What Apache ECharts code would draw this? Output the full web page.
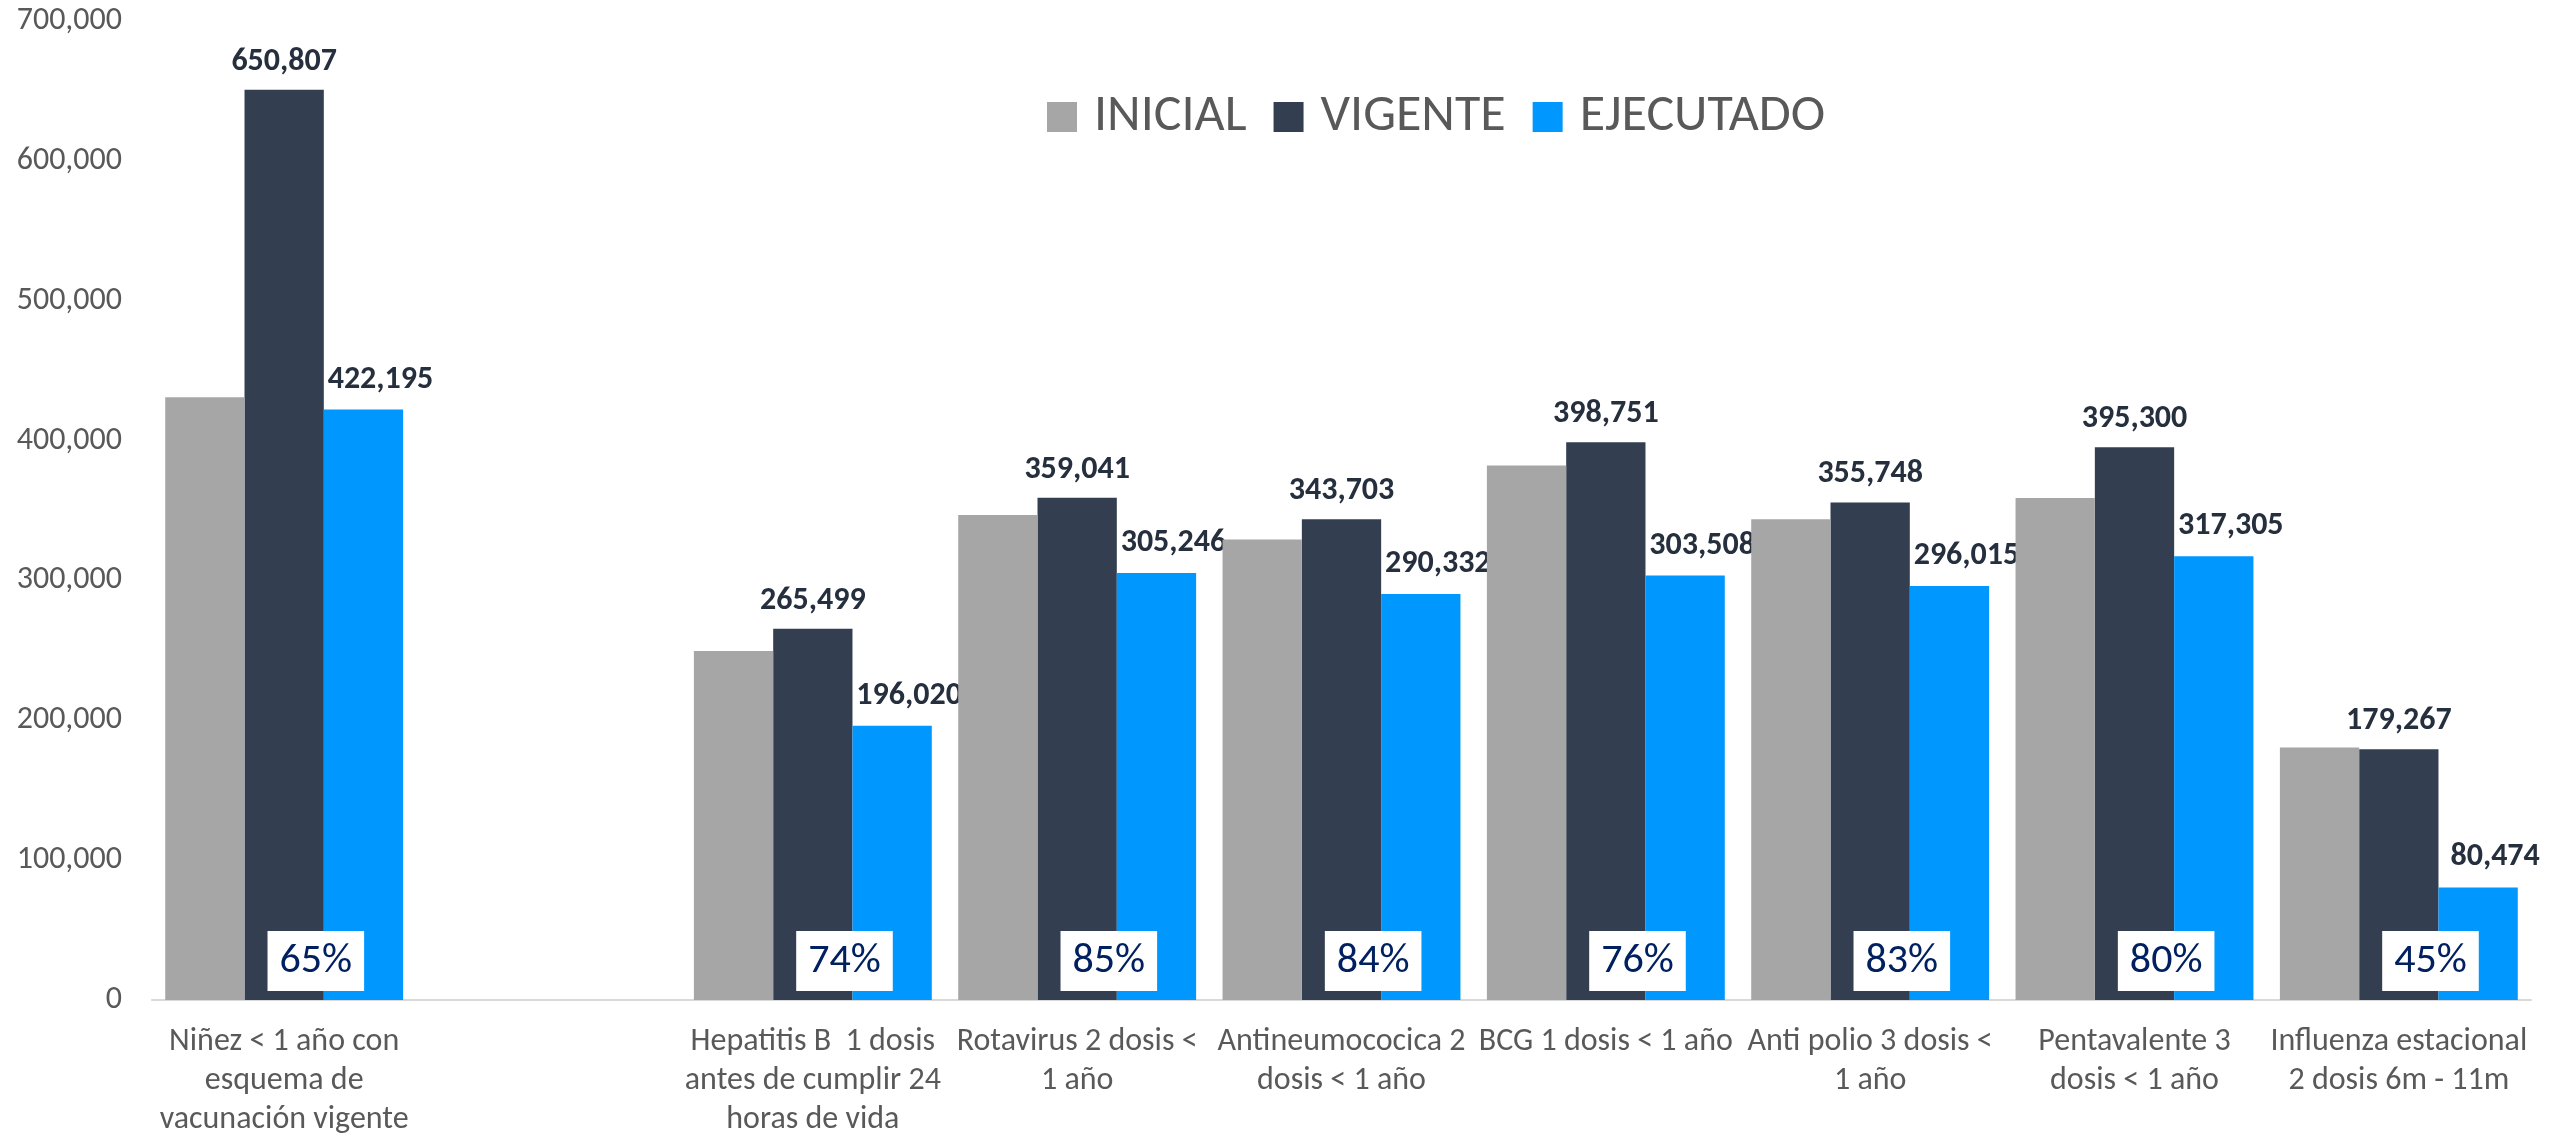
<!DOCTYPE html>
<html>
<head>
<meta charset="utf-8">
<script src="https://cdn.jsdelivr.net/npm/echarts@6/dist/echarts.min.js"></script>
<style>
  html, body { margin: 0; padding: 0; background: #fff; }
  #chart { width: 2554px; height: 1139px; }
</style>
</head>
<body>
<div id="chart"></div>
<script>
// categorias (la segunda va vacia, como en el original)
var categorias = [
  'Niñez < 1 año con\nesquema de\nvacunación vigente',
  '',
  'Hepatitis B  1 dosis\nantes de cumplir 24\nhoras de vida',
  'Rotavirus 2 dosis <\n1 año',
  'Antineumococica 2\ndosis < 1 año',
  'BCG 1 dosis < 1 año',
  'Anti polio 3 dosis <\n1 año',
  'Pentavalente 3\ndosis < 1 año',
  'Influenza estacional\n2 dosis 6m - 11m'
];
var inicial   = [431000, null, 249600, 346700, 329300, 382100, 343800, 359000, 180600];
var vigente   = [650807, null, 265499, 359041, 343703, 398751, 355748, 395300, 179267];
var ejecutado = [422195, null, 196020, 305246, 290332, 303508, 296015, 317305, 80474];
var porcentaje = ['65%', '', '74%', '85%', '84%', '76%', '83%', '80%', '45%'];
var yTicks = [0, 100000, 200000, 300000, 400000, 500000, 600000, 700000];

var fuente = "Carlito, Calibri, 'Open Sans', sans-serif";

function miles(v) {
    return Number(v).toLocaleString('en-US');
}

var myChart = echarts.init(document.getElementById('chart'));

var option = {
    animation: false,
    textStyle: { fontFamily: fuente },
    legend: {
        data: ['INICIAL', 'VIGENTE', 'EJECUTADO'],
        left: 1042,
        top: 86,
        icon: 'rect',
        itemWidth: 30,
        itemHeight: 30,
        itemGap: 27,
        textStyle: {
            fontFamily: fuente,
            fontSize: 52,
            lineHeight: 52,
            color: '#595959',
            padding: [0, 0, 0, 12]
        }
    },
    grid: {
        left: 152,
        right: 23,
        top: 21,
        bottom: 137,
        containLabel: false
    },
    xAxis: {
        type: 'category',
        data: categorias,
        axisTick: { show: false },
        axisLine: { lineStyle: { color: '#d9d9d9', width: 2 } },
        axisLabel: {
            interval: 0,
            margin: 22,
            fontFamily: fuente,
            fontSize: 32,
            lineHeight: 39,
            color: '#595959',
            align: 'center'
        }
    },
    yAxis: {
        type: 'value',
        min: yTicks[0],
        max: yTicks[yTicks.length - 1],
        interval: yTicks[1] - yTicks[0],
        splitLine: { show: false },
        axisLine: { show: false },
        axisTick: { show: false },
        axisLabel: {
            margin: 30,
            fontFamily: fuente,
            fontSize: 32,
            color: '#595959',
            formatter: miles
        }
    },
    series: [
        {
            name: 'INICIAL',
            type: 'bar',
            z: 5,
            barGap: '0%',
            barCategoryGap: '10%',
            itemStyle: { color: '#a6a6a6' },
            data: inicial,
            // el cuadro blanco con el % va colgado de la barra gris
            label: {
                show: true,
                position: ['200%', '100%'],
                offset: [-8, -9],
                align: 'center',
                verticalAlign: 'bottom',
                backgroundColor: '#ffffff',
                padding: [9, 12, 9, 12],
                fontFamily: fuente,
                fontSize: 42,
                lineHeight: 42,
                color: '#002060',
                formatter: function (p) { return porcentaje[p.dataIndex]; }
            }
        },
        {
            name: 'VIGENTE',
            type: 'bar',
            barGap: '0%',
            barCategoryGap: '10%',
            itemStyle: { color: '#333f50' },
            data: vigente,
            label: {
                show: true,
                position: 'top',
                distance: 12,
                fontFamily: fuente,
                fontSize: 32,
                fontWeight: 'bold',
                color: '#262f3d',
                formatter: function (p) { return miles(p.value); }
            }
        },
        {
            name: 'EJECUTADO',
            type: 'bar',
            barGap: '0%',
            barCategoryGap: '10%',
            itemStyle: { color: '#0097ff' },
            data: ejecutado,
            label: {
                show: true,
                position: 'top',
                distance: 14,
                offset: [17, 0],
                fontFamily: fuente,
                fontSize: 32,
                fontWeight: 'bold',
                color: '#262f3d',
                formatter: function (p) { return miles(p.value); }
            }
        }
    ]
};

myChart.setOption(option);
</script>
</body>
</html>
